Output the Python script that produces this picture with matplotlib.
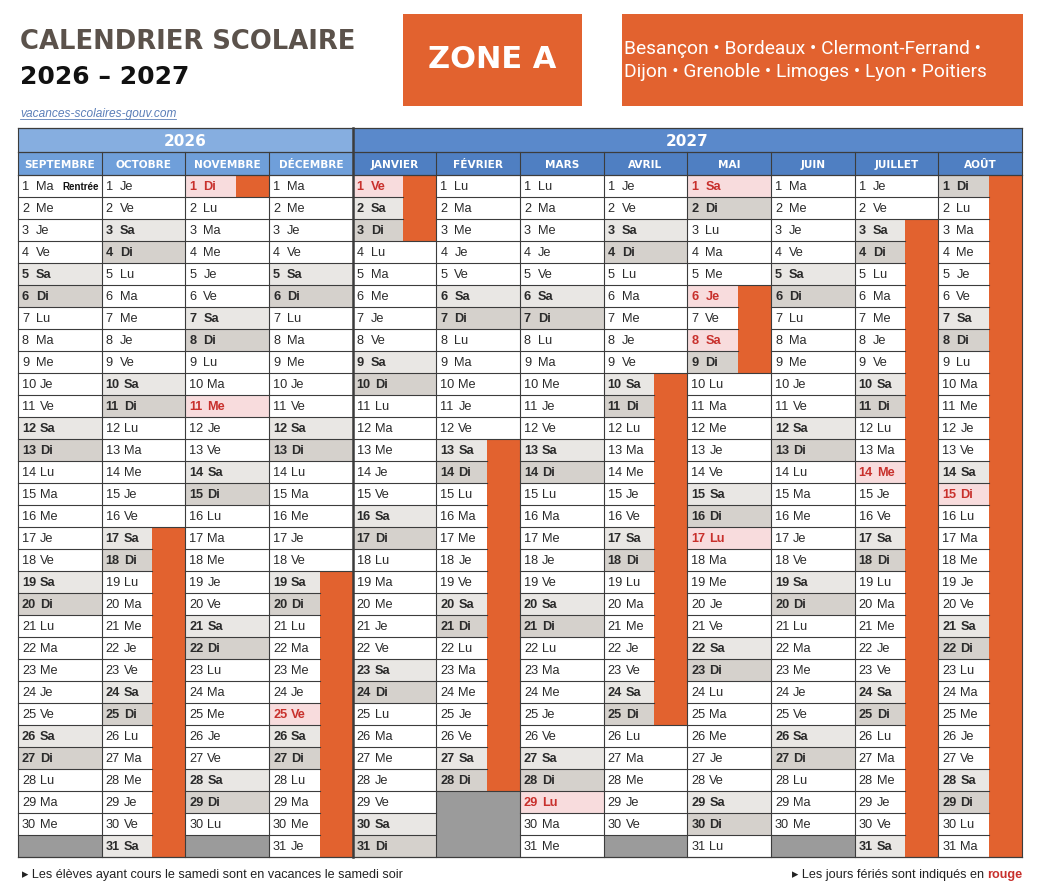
import calendar
import datetime as dt

import numpy as np
from matplotlib import pyplot as plt
from matplotlib.patches import Rectangle

# school year data
months = ["SEPTEMBRE", "OCTOBRE", "NOVEMBRE", "DÉCEMBRE", "JANVIER", "FÉVRIER",
          "MARS", "AVRIL", "MAI", "JUIN", "JUILLET", "AOÛT"]
month_years = [2026, 2026, 2026, 2026, 2027, 2027, 2027, 2027, 2027, 2027, 2027, 2027]
month_nums = [9, 10, 11, 12, 1, 2, 3, 4, 5, 6, 7, 8]
weekdays = ["Lu", "Ma", "Me", "Je", "Ve", "Sa", "Di"]
years = ["2026", "2027"]

vacations = [("2026-10-17", "2026-11-01"),
             ("2026-12-19", "2027-01-03"),
             ("2027-02-13", "2027-02-28"),
             ("2027-04-10", "2027-04-25"),
             ("2027-05-06", "2027-05-09"),
             ("2027-07-03", "2027-08-31")]
holidays = ["2026-11-01", "2026-11-11", "2026-12-25", "2027-01-01", "2027-03-29",
            "2027-05-01", "2027-05-06", "2027-05-08", "2027-05-17", "2027-07-14",
            "2027-08-15"]
rentree = "2026-09-01"
cities = ["Besançon • Bordeaux • Clermont-Ferrand •",
          "Dijon • Grenoble • Limoges • Lyon • Poitiers"]

# colours
ORANGE = "#e2622f"
SA_BG = "#e9e7e4"
DI_BG = "#d5d1cc"
HOL_BG = "#f8dcdd"
HOL_TXT = "#c8302c"
MISSING = "#9b9b9b"
LINE = "#3c3c3c"
TXT = "#2a2a2a"
BLUE_Y = ["#86aee0", "#5a89cb"]
BLUE_M = ["#6f9fda", "#4f7fc2"]

# geometry (pixels)
X0, X1 = 18, 1022
Y_YEAR, Y_MONTH, Y0 = 128, 152, 175
H = 22.0
W = (X1 - X0) / 12
BW = 33

FONT = ["Liberation Sans", "DejaVu Sans"]
CELL_FS = 9.2

vac_days = set()
for a, b in vacations:
    d = dt.date.fromisoformat(a)
    e = dt.date.fromisoformat(b)
    while d <= e:
        vac_days.add(d)
        d += dt.timedelta(days=1)
hol_days = {dt.date.fromisoformat(h) for h in holidays}

fig = plt.figure(figsize=(10.4, 8.88), dpi=100)
ax = fig.add_axes([0, 0, 1, 1])
ax.set_xlim(0, 1040)
ax.set_ylim(888, 0)
ax.axis("off")

# titles
ax.text(20, 42, "CALENDRIER SCOLAIRE", fontsize=18.6, fontweight="bold",
        color="#5b524b", va="center", family="DejaVu Sans")
ax.text(20, 77, "2026 – 2027", fontsize=18, fontweight="bold",
        color="#111111", va="center", family="DejaVu Sans")
link = ax.text(20, 114, "vacances-scolaires-gouv.com", fontsize=8.6, style="italic",
               color="#5b7fb8", va="center", family=FONT)

ax.add_patch(Rectangle((403, 14), 179, 92, facecolor=ORANGE, edgecolor="none"))
ax.text(492.5, 60, "ZONE A", fontsize=22, fontweight="bold", color="white",
        ha="center", va="center", family="DejaVu Sans")
ax.add_patch(Rectangle((622, 14), 401, 92, facecolor=ORANGE, edgecolor="none"))
for i, line in enumerate(cities):
    ax.text(624, 49 + 23 * i, line, fontsize=13.8, color="white", va="center",
            family=["Roboto", "DejaVu Sans"])

# year and month headers
split = 4
ax.add_patch(Rectangle((X0, Y_YEAR), split * W, Y_MONTH - Y_YEAR,
                       facecolor=BLUE_Y[0], edgecolor="none"))
ax.add_patch(Rectangle((X0 + split * W, Y_YEAR), (12 - split) * W, Y_MONTH - Y_YEAR,
                       facecolor=BLUE_Y[1], edgecolor="none"))
ax.text(X0 + split * W / 2, (Y_YEAR + Y_MONTH) / 2 + 1, years[0], fontsize=11,
        fontweight="bold", color="white", ha="center", va="center", family="DejaVu Sans")
ax.text(X0 + split * W + (12 - split) * W / 2, (Y_YEAR + Y_MONTH) / 2 + 1, years[1],
        fontsize=11, fontweight="bold", color="white", ha="center", va="center",
        family="DejaVu Sans")

for col, name in enumerate(months):
    x = X0 + col * W
    c = BLUE_M[0] if month_years[col] == 2026 else BLUE_M[1]
    ax.add_patch(Rectangle((x, Y_MONTH), W, Y0 - Y_MONTH, facecolor=c, edgecolor="none"))
    ax.text(x + W / 2, (Y_MONTH + Y0) / 2 + 1, name, fontsize=7.6, fontweight="bold",
            color="white", ha="center", va="center", family="DejaVu Sans")

# day cells
Y_END = Y0 + 31 * H
for col in range(12):
    x = X0 + col * W
    yr, mo = month_years[col], month_nums[col]
    ndays = calendar.monthrange(yr, mo)[1]
    for d in range(1, 32):
        y = Y0 + (d - 1) * H
        if d > ndays:
            ax.add_patch(Rectangle((x, y), W, H, facecolor=MISSING, edgecolor="none"))
            if d - 1 <= ndays:
                ax.plot([x, x + W], [y, y], color=LINE, lw=0.8)
            continue
        day = dt.date(yr, mo, d)
        wd = day.weekday()
        is_hol = day in hol_days
        is_vac = day in vac_days
        if is_hol:
            bg = HOL_BG
        elif wd == 5:
            bg = SA_BG
        elif wd == 6:
            bg = DI_BG
        else:
            bg = "white"
        ax.add_patch(Rectangle((x, y), W, H, facecolor=bg, edgecolor="none"))
        if is_vac:
            ax.add_patch(Rectangle((x + W - BW, y), BW, H, facecolor=ORANGE,
                                   edgecolor="none", zorder=2))
        # top boundary line
        prev_vac = d > 1 and (day - dt.timedelta(days=1)) in vac_days
        x_end = x + W - BW if (is_vac and prev_vac) else x + W
        if d > 1:
            ax.plot([x, x_end], [y, y], color=LINE, lw=0.8, zorder=3)
        color = HOL_TXT if is_hol else TXT
        weight = "bold" if (is_hol or wd >= 5) else "normal"
        ax.text(x + 4, y + H / 2 + 0.5, str(d), fontsize=CELL_FS, color=color,
                fontweight=weight, va="center", family=FONT, zorder=4)
        ax.text(x + (18 if d < 10 else 22), y + H / 2 + 0.5, weekdays[wd],
                fontsize=CELL_FS, color=color, fontweight=weight, va="center",
                family=FONT, zorder=4)
        if day.isoformat() == rentree:
            ax.text(x + W - 3, y + H / 2 + 0.5, "Rentrée", fontsize=7, fontweight="bold",
                    color="#111111", ha="right", va="center", family=FONT, zorder=4)

# vertical lines
for col in range(13):
    x = X0 + col * W
    lw = 1.8 if col == split else 0.8
    top = Y_MONTH if col not in (0, split, 12) else Y_YEAR
    ax.plot([x, x], [top, Y_END], color=LINE, lw=lw, zorder=5)
for yy in (Y_YEAR, Y_MONTH, Y0, Y_END):
    ax.plot([X0, X1], [yy, yy], color=LINE, lw=0.9, zorder=5)

# footer
ax.text(22, 875, "▸ Les élèves ayant cours le samedi sont en vacances le samedi soir",
        fontsize=9.1, color="#222222", va="center", family=FONT)
r_txt = ax.text(1022, 875, "rouge", fontsize=9.1, color=HOL_TXT, fontweight="bold",
                ha="right", va="center", family=FONT)
fig.canvas.draw()
renderer = fig.canvas.get_renderer()
inv = ax.transData.inverted()
bb = r_txt.get_window_extent(renderer)
x_left = inv.transform((bb.x0, bb.y0))[0]
ax.text(x_left - 3, 875, "▸ Les jours fériés sont indiqués en", fontsize=9.1,
        color="#222222", ha="right", va="center", family=FONT)

# underline of the link
bb = link.get_window_extent(renderer)
(lx0, ly0), (lx1, _) = inv.transform([(bb.x0, bb.y0), (bb.x1, bb.y1)])
ax.plot([lx0, lx1], [ly0 - 1, ly0 - 1], color="#5b7fb8", lw=0.6)

plt.savefig("out.png", dpi=100)
